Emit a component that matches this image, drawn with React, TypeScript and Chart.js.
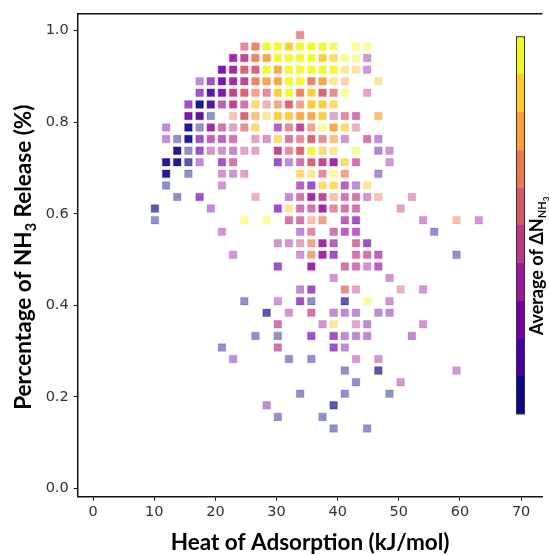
import React, { useEffect, useRef } from 'react';
import { Chart, registerables } from 'chart.js';

Chart.register(...registerables);

// Bin centres (kJ/mol) of the heat-of-adsorption columns
const xBins = [10.11, 11.94, 13.76, 15.59, 17.42, 19.25, 21.07, 22.9, 24.73, 26.55, 28.38, 30.21, 32.03, 33.86, 35.69,
  37.52, 39.34, 41.17, 43.0, 44.82, 46.65, 48.48, 50.3, 52.13, 53.96, 55.79, 57.61, 59.44, 61.27, 63.09];

// Bin centres of the NH3 release fraction rows (top to bottom)
const yBins = [0.9906, 0.9653, 0.94, 0.9148, 0.8895, 0.8642, 0.8389, 0.8136, 0.7884, 0.7631, 0.7378, 0.7125, 0.6872,
  0.662, 0.6367, 0.6114, 0.5861, 0.5608, 0.5356, 0.5103, 0.485, 0.4597, 0.4344, 0.4092, 0.3839, 0.3586, 0.3333,
  0.308, 0.2828, 0.2575, 0.2322, 0.2069, 0.1816, 0.1564, 0.1311];

// Cell values: level 0-9 of "Average of ΔN_NH3" ; upper case A-J = strong, digit = medium, lower case a-j = faint
const cellRows = [
  '.............5................',
  '........5GJJIJJJ9.jj..........',
  '.......DEGHJJJJI8jjd..........',
  '......CDFFJHJJJJJiid..........',
  '....c2CDEGHHJJGHih..i.........',
  '....2BCEF65IJGIF5j.e..........',
  '...2AB3E48f6F6II8.............',
  '...CBa.gF7iIIHHIe54.7.........',
  '.c.AaD4e58.35E6jH8f...........',
  '.caA2334.ed845F57d.4c.........',
  '..Aa2ddcee.E5FJ8i.j.bd........',
  '.AA0c.24...2c4FED84..d........',
  '.A.a..dde....8i5j6..b.........',
  '.a....d......32883ci..........',
  '..a.2....f..c4DEg44dg..e......',
  '0....c.....2i44D544...e.......',
  'a.......j.j.44g6.32.....d..g.d',
  '......d......c5.433......a....',
  '...........dde6D3.42..........',
  '.......d.....d6D2.443......a..',
  '...........2..D..44d3.........',
  '................d....d........',
  '.............c2..5e...f.d.....',
  '........a..d.2a..0.j.d........',
  '..........0.d.4.ccc.cc........',
  '...........4...di.ec....d.....',
  '.........a.a..2.2ccc...c......',
  '......a....4....2c............',
  '.......c....a.a...d.d.........',
  '.................a..0......d..',
  '..................a...d.......',
  '.............a...a...a........',
  '..........c.....0.............',
  '...........a...a..............',
  '................a..a..........',
];

const xTicks = [0, 10, 20, 30, 40, 50, 60, 70];
const yTicks = [0.0, 0.2, 0.4, 0.6, 0.8, 1.0];

// plasma colormap, 10 discrete levels
const levelColors = ['#0d0887', '#45039e', '#7201a8', '#9c179e', '#bd3786', '#d8576b', '#ed7953', '#fb9f3a', '#fdca26', '#f0f921'];

const xTitle = 'Heat of Adsorption (kJ/mol)';
const cbarTitle = 'Average of ΔN';

function rgba(hex: string, a: number) {
  const r = parseInt(hex.slice(1, 3), 16);
  const g = parseInt(hex.slice(3, 5), 16);
  const b = parseInt(hex.slice(5, 7), 16);
  return `rgba(${r},${g},${b},${a})`;
}

function decode(ch: string): { level: number; alpha: number } | null {
  if (ch === '.' || ch === undefined) return null;
  const c = ch.charCodeAt(0);
  if (c >= 65 && c <= 74) return { level: c - 65, alpha: 0.92 };
  if (c >= 97 && c <= 106) return { level: c - 97, alpha: 0.45 };
  if (c >= 48 && c <= 57) return { level: c - 48, alpha: 0.68 };
  return null;
}

type Part = { text: string; size: number; dy: number };

function drawRich(ctx: CanvasRenderingContext2D, parts: Part[], family: string) {
  let total = 0;
  const widths: number[] = [];
  for (const p of parts) {
    ctx.font = `bold ${p.size}px ${family}`;
    const w = ctx.measureText(p.text).width;
    widths.push(w);
    total += w;
  }
  let x = -total / 2;
  parts.forEach((p, i) => {
    ctx.font = `bold ${p.size}px ${family}`;
    ctx.fillText(p.text, x, p.dy);
    x += widths[i];
  });
}

const FAMILY = 'Lato, "DejaVu Sans", sans-serif';

const decorPlugin = {
  id: 'decor',
  afterDraw(chart: any) {
    const ctx: CanvasRenderingContext2D = chart.ctx;
    const area = chart.chartArea;
    ctx.save();
    // top spine
    ctx.strokeStyle = '#111';
    ctx.lineWidth = 1.5;
    ctx.beginPath();
    ctx.moveTo(area.left, area.top);
    ctx.lineTo(area.right, area.top);
    ctx.stroke();

    // colorbar
    const cbL = 516.5, cbR = 524.5, cbT = 36.7, cbB = 414;
    const h = (cbB - cbT) / levelColors.length;
    levelColors.forEach((col, i) => {
      ctx.fillStyle = col;
      const y0 = Math.round(cbB - (i + 1) * h);
      const y1 = Math.round(cbB - i * h);
      ctx.fillRect(cbL, y0, cbR - cbL, y1 - y0);
    });
    ctx.strokeStyle = '#333';
    ctx.lineWidth = 1;
    ctx.strokeRect(cbL, cbT, cbR - cbL, cbB - cbT);

    ctx.fillStyle = '#000';
    ctx.textBaseline = 'alphabetic';
    ctx.textAlign = 'left';
    // colorbar label
    ctx.save();
    ctx.translate(543, 266);
    ctx.rotate(-Math.PI / 2);
    drawRich(ctx, [
      { text: cbarTitle, size: 18, dy: 0 },
      { text: 'NH', size: 11, dy: 3 },
      { text: '3', size: 8, dy: 5.5 },
    ], FAMILY);
    ctx.restore();

    // y title
    ctx.save();
    ctx.translate(31, (area.top + area.bottom) / 2 + 2);
    ctx.rotate(-Math.PI / 2);
    drawRich(ctx, [
      { text: 'Percentage of NH', size: 22.5, dy: 0 },
      { text: '3', size: 14.5, dy: 4.5 },
      { text: ' Release (%)', size: 22.5, dy: 0 },
    ], FAMILY);
    ctx.restore();

    // x title
    ctx.save();
    ctx.translate((area.left + area.right) / 2, 549.5);
    drawRich(ctx, [{ text: xTitle, size: 22.5, dy: 0 }], FAMILY);
    ctx.restore();

    ctx.restore();
  },
};

export default function App() {
  const ref = useRef<HTMLCanvasElement>(null);

  useEffect(() => {
    if (!ref.current) return;
    const pts: { x: number; y: number }[] = [];
    const bg: string[] = [];
    const bd: string[] = [];
    cellRows.forEach((row, j) => {
      for (let k = 0; k < row.length && k < xBins.length; k++) {
        const d = decode(row[k]);
        if (!d) continue;
        pts.push({ x: xBins[k], y: yBins[j] });
        bg.push(rgba(levelColors[d.level], d.alpha));
        bd.push(rgba(levelColors[d.level], d.alpha * 0.35));
      }
    });

    const tickFont = { family: '"DejaVu Sans", sans-serif', size: 14.5 };
    const chart = new Chart(ref.current, {
      type: 'scatter',
      data: {
        datasets: [
          {
            data: pts,
            pointStyle: 'rect',
            pointRadius: 5.3,
            pointHoverRadius: 5.3,
            pointBorderWidth: 1.2,
            pointBackgroundColor: bg,
            pointBorderColor: bd,
          } as any,
        ],
      },
      options: {
        animation: false,
        responsive: false,
        devicePixelRatio: 1,
        layout: { padding: { top: 13, left: 0, right: 0, bottom: 0 } },
        plugins: { legend: { display: false }, tooltip: { enabled: false } },
        scales: {
          x: {
            type: 'linear',
            min: -2.52,
            max: 73.5,
            afterFit: (s: any) => { s.height = 58.3; },
            afterBuildTicks: (s: any) => { s.ticks = xTicks.map((v) => ({ value: v })); },
            ticks: { color: '#333', font: tickFont, padding: 3, maxRotation: 0, callback: (v: any) => String(v) },
            grid: { display: true, drawOnChartArea: false, drawTicks: true, tickLength: 4, color: '#111', lineWidth: 1 },
            border: { display: true, color: '#111', width: 1.5 },
          },
          y: {
            type: 'linear',
            min: -0.0179,
            max: 1.037,
            afterFit: (s: any) => { s.width = 77.7; },
            afterBuildTicks: (s: any) => { s.ticks = yTicks.map((v) => ({ value: v })); },
            ticks: { color: '#333', font: tickFont, padding: 5, callback: (v: any) => Number(v).toFixed(1) },
            grid: { display: true, drawOnChartArea: false, drawTicks: true, tickLength: 4, color: '#111', lineWidth: 1 },
            border: { display: true, color: '#111', width: 1.5 },
          },
        },
      },
      plugins: [decorPlugin],
    });
    return () => chart.destroy();
  }, []);

  return (
    <div style={{ position: 'fixed', left: 0, top: 0, width: 549, height: 555, background: '#fff', overflow: 'hidden' }}>
      <canvas ref={ref} width={549} height={555} style={{ width: 549, height: 555, display: 'block' }} />
    </div>
  );
}
